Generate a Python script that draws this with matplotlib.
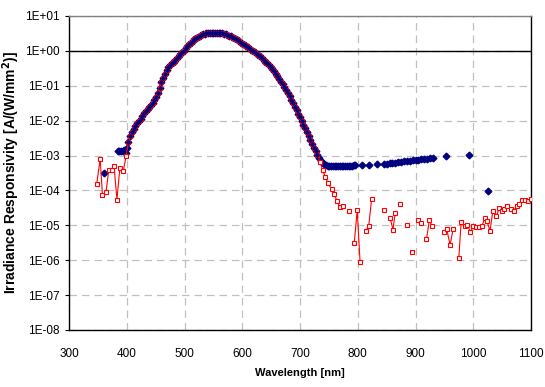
import numpy as np
import matplotlib

matplotlib.use('Agg')
import matplotlib.pyplot as plt
from matplotlib.ticker import NullLocator

plt.rcParams['font.family'] = ['Liberation Sans', 'DejaVu Sans']

# wavelength (nm) and log10 responsivity
main_nm = [403, 406, 409, 412, 415, 418, 421, 424, 427, 430, 433, 436, 439, 442, 445, 448,
           451, 454, 457, 460, 463, 466, 469, 472, 475, 478, 481, 484, 487, 490, 493, 496,
           499, 502, 505, 508, 511, 514, 517, 520, 523, 526, 529, 532, 535, 538, 541, 544,
           547, 550, 553, 556, 559, 562, 565, 568, 571, 574, 577, 580, 583, 586, 589, 592,
           595, 598, 601, 604, 607, 610, 613, 616, 619, 622, 625, 628, 631, 634, 637, 640,
           643, 646, 649, 652, 655, 658, 661, 664, 667, 670, 673, 676, 679, 682, 685, 688,
           691, 694, 697, 700, 703, 706, 709, 712, 715, 718, 721, 724, 727, 730]
main_log = [-2.62, -2.45, -2.33, -2.23, -2.15, -2.08, -2.01, -1.94, -1.86, -1.78, -1.71, -1.66,
            -1.61, -1.56, -1.50, -1.42, -1.32, -1.20, -1.05, -0.90, -0.77, -0.65, -0.55, -0.47,
            -0.41, -0.36, -0.31, -0.26, -0.20, -0.14, -0.09, -0.04, 0.01, 0.07, 0.13, 0.19,
            0.24, 0.29, 0.34, 0.38, 0.41, 0.44, 0.46, 0.48, 0.49, 0.50, 0.51, 0.52,
            0.52, 0.52, 0.52, 0.52, 0.52, 0.51, 0.50, 0.49, 0.48, 0.46, 0.44, 0.42,
            0.40, 0.37, 0.34, 0.31, 0.28, 0.24, 0.20, 0.17, 0.13, 0.10, 0.06, 0.03,
            0.00, -0.04, -0.08, -0.12, -0.16, -0.21, -0.26, -0.31, -0.36, -0.41, -0.47, -0.53,
            -0.59, -0.66, -0.73, -0.80, -0.88, -0.96, -1.04, -1.12, -1.21, -1.30, -1.40, -1.50,
            -1.60, -1.70, -1.80, -1.90, -2.00, -2.11, -2.22, -2.33, -2.45, -2.56, -2.67, -2.78,
            -2.88, -2.98]

blue_head_nm = [360, 384, 387, 390, 393, 396, 399, 400]
blue_head_log = [-3.51, -2.88, -2.88, -2.88, -2.88, -2.85, -2.94, -2.78]
blue_tail_nm = [733, 736, 739, 742, 745, 748, 751, 754, 757, 760, 763, 766, 769, 772, 775, 778,
                781, 784, 787, 790, 793, 796, 807, 820, 833, 845, 850, 855, 860, 865, 870, 875,
                880, 885, 890, 895, 900, 905, 910, 915, 920, 925, 930, 953, 993, 1025]
blue_tail_log = [-3.08, -3.15, -3.20, -3.24, -3.27, -3.29, -3.30, -3.31, -3.31, -3.31, -3.31,
                 -3.31, -3.31, -3.31, -3.30, -3.30, -3.30, -3.29, -3.29, -3.29, -3.28, -3.28,
                 -3.28, -3.26, -3.25, -3.24, -3.23, -3.22, -3.21, -3.20, -3.19, -3.18, -3.17,
                 -3.16, -3.15, -3.14, -3.13, -3.12, -3.11, -3.10, -3.09, -3.08, -3.07, -3.02,
                 -2.98, -4.03]

red_head_nm = [348, 354, 358, 364, 369, 374, 378, 383, 388, 394, 399]
red_head_log = [-3.81, -3.10, -4.14, -4.05, -3.40, -3.40, -3.29, -4.26, -3.37, -3.45, -3.00]
# nan = missing value, the line breaks there
red_tail_nm = [735, 739, 744, 748, 755, 759, 764, 769, 774, 779, 785, 790, 794, 799, 804, 809,
               814, 819, 824, 834, 845, 850, 856, 861, 865, 870, 874, 880, 885, 890, 894, 899,
               904, 910, 915, 919, 924, 929, 940, 949, 954, 960, 965, 970, 975, 979, 985, 990,
               995, 1000, 1005, 1010, 1015, 1020, 1024, 1029, 1034, 1040, 1045, 1049, 1054,
               1059, 1065, 1070, 1075, 1080, 1084, 1090, 1095, 1100]
red_tail_log = [-3.19, -3.42, -3.61, -3.78, -3.97, -4.10, -4.30, -4.48, -4.45, np.nan, -4.58,
                np.nan, -5.50, -4.57, -6.04, np.nan, -5.16, -5.02, -4.25, np.nan, -4.55, np.nan,
                -4.79, -5.12, -4.64, np.nan, -4.38, np.nan, -4.99, np.nan, -5.76, np.nan,
                -4.85, -4.94, np.nan, -5.40, -4.85, -5.03, np.nan, -5.18, -5.11, -5.56, -5.11,
                np.nan, -5.94, -4.91, -5.03, -4.99, -5.20, -5.02, -5.06, -5.06, -5.02, -4.80,
                -4.89, -5.16, -4.59, -4.74, -4.51, -4.60, -4.54, -4.45, -4.54, -4.58, -4.45,
                -4.40, -4.26, -4.27, -4.31, -4.24]

ytick_vals = [1e-8, 1e-7, 1e-6, 1e-5, 1e-4, 1e-3, 1e-2, 1e-1, 1e0, 1e1]
ytick_labels = ['1E-08', '1E-07', '1E-06', '1E-05', '1E-04', '1E-03', '1E-02', '1E-01',
                '1E+00', '1E+01']
xtick_vals = [300, 400, 500, 600, 700, 800, 900, 1000, 1100]

blue_x = blue_head_nm + main_nm + blue_tail_nm
blue_y = 10 ** np.array(blue_head_log + main_log + blue_tail_log)
red_x = red_head_nm + main_nm + red_tail_nm
red_y = 10 ** np.array(red_head_log + main_log + red_tail_log)

fig = plt.figure(figsize=(5.45, 3.87), dpi=100)
ax = fig.add_axes([69 / 545, 1 - 330 / 387, 462 / 545, 314 / 387])

ax.set_yscale('log')
ax.set_xlim(300, 1100)
ax.set_ylim(1e-8, 1e1)

ax.grid(True, color='#c0c0c0', linestyle=(0, (6, 4)), linewidth=0.9)
ax.set_axisbelow(True)
ax.axhline(1.0, color='black', linewidth=1.0, zorder=2)

ax.plot(blue_x, blue_y, linestyle='none', marker='D', markersize=3.4,
        color='#000080', zorder=3)
ax.plot(red_x, red_y, '-', color='#ff0000', linewidth=0.8, marker='s', markersize=3.0,
        markerfacecolor='white', markeredgecolor='#ff0000', markeredgewidth=0.8, zorder=4)
# navy shows through the red squares on the shared part of the curve
ax.plot(main_nm, 10 ** np.array(main_log), linestyle='none', marker='D', markersize=1.8,
        color='#000080', zorder=5)

ax.set_yticks(ytick_vals)
ax.set_yticklabels(ytick_labels)
ax.yaxis.set_minor_locator(NullLocator())
ax.set_xticks(xtick_vals)
ax.tick_params(axis='y', length=3, width=0.8, pad=4, labelsize=8.5)
ax.tick_params(axis='x', length=0, pad=13, labelsize=8.5)

for s in ['left', 'bottom', 'right']:
    ax.spines[s].set_color('black')
    ax.spines[s].set_linewidth(1.0)
ax.spines['top'].set_color('#808080')
ax.spines['top'].set_linewidth(1.0)

ax.set_xlabel('Wavelength [nm]', fontsize=8, fontweight='bold', labelpad=6)
ax.set_ylabel('Irradiance Responsivity [A/(W/mm$^\\mathbf{2}$)]', fontsize=10,
              fontweight='bold')
ax.yaxis.set_label_coords(-0.102, 0.5)

fig.savefig('out.png', dpi=100)
